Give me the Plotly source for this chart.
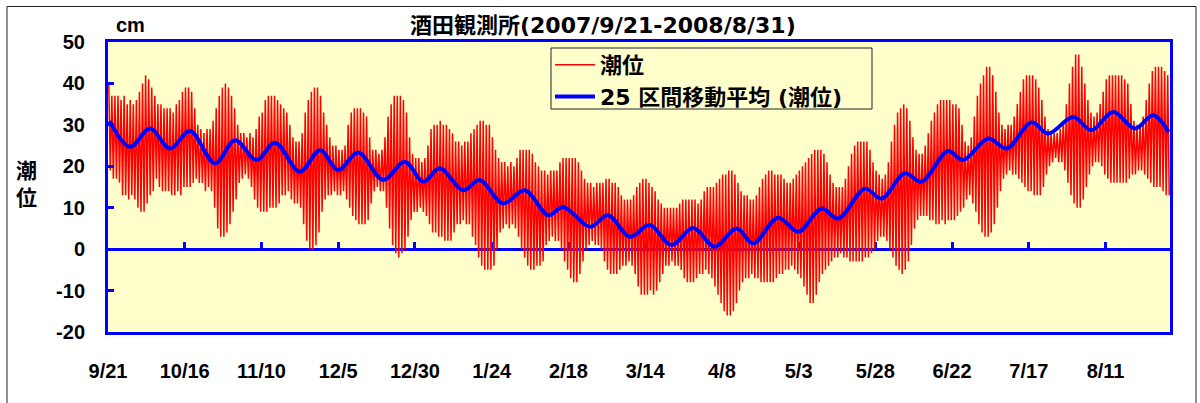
import plotly.graph_objects as go

# ---- data ----
tick_days = [0, 25, 50, 75, 100, 125, 150, 175, 200, 225, 250, 275, 300, 325]
tick_labels = ["9/21", "10/16", "11/10", "12/5", "12/30", "1/24", "2/18",
               "3/14", "4/8", "5/3", "5/28", "6/22", "7/17", "8/11"]
y_ticks = [-20, -10, 0, 10, 20, 30, 40, 50]
y_tick_labels = ["-20", "-10", "0", "10", "20", "30", "40", "50"]

# daily high / low of tide level (cm), day 0 = 2007/9/21
tide_high = [
    40, 37, 37, 37, 36, 37, 35, 36, 35, 36,
    38, 40, 42, 41, 39, 37, 35, 35, 34, 34,
    34, 33, 35, 36, 38, 39, 39, 38, 34, 30,
    29, 28, 29, 29, 31, 34, 37, 39, 40, 39,
    37, 34, 30, 28, 28, 27, 28, 27, 29, 32,
    33, 36, 37, 37, 37, 36, 35, 34, 33, 30,
    27, 26, 26, 28, 33, 36, 38, 39, 39, 37,
    33, 30, 27, 25, 25, 24, 24, 25, 30, 33,
    34, 34, 34, 33, 32, 27, 24, 24, 23, 24,
    27, 32, 35, 37, 37, 37, 36, 33, 27, 23,
    22, 22, 21, 22, 25, 29, 30, 30, 31, 30,
    30, 29, 28, 26, 26, 25, 26, 26, 28, 29,
    30, 31, 31, 30, 30, 27, 24, 22, 21, 21,
    20, 21, 20, 22, 24, 24, 24, 24, 23, 21,
    20, 19, 19, 18, 19, 19, 19, 21, 22, 22,
    22, 22, 22, 21, 19, 17, 16, 16, 15, 16,
    16, 16, 17, 17, 16, 16, 15, 13, 12, 12,
    12, 13, 15, 16, 17, 17, 16, 15, 14, 12,
    11, 10, 10, 10, 10, 10, 11, 12, 12, 12,
    12, 12, 11, 12, 14, 15, 15, 15, 16, 17,
    18, 18, 19, 19, 18, 16, 14, 13, 13, 12,
    12, 13, 15, 17, 18, 19, 19, 18, 18, 18,
    17, 16, 16, 17, 18, 19, 20, 21, 22, 23,
    24, 24, 24, 23, 21, 18, 16, 15, 15, 15,
    17, 20, 23, 25, 26, 26, 26, 26, 24, 21,
    19, 18, 17, 18, 21, 26, 30, 33, 34, 35,
    34, 31, 27, 24, 23, 23, 25, 28, 31, 33,
    35, 36, 36, 36, 36, 35, 35, 34, 30, 26,
    25, 27, 32, 37, 40, 42, 44, 44, 42, 38,
    33, 30, 29, 30, 30, 32, 35, 38, 41, 42,
    42, 42, 41, 39, 36, 32, 29, 28, 28, 28,
    29, 31, 35, 40, 44, 47, 47, 44, 40, 36,
    33, 32, 33, 35, 38, 41, 42, 42, 42, 42,
    42, 41, 40, 35, 31, 30, 30, 32, 36, 40,
    43, 44, 44, 44, 43, 42,
]
tide_low = [
    19, 17, 17, 16, 13, 13, 12, 13, 12, 10,
    9, 9, 11, 13, 14, 17, 15, 14, 14, 14,
    13, 13, 14, 13, 15, 15, 15, 16, 17, 16,
    16, 14, 15, 14, 10, 5, 3, 3, 4, 6,
    9, 12, 16, 17, 18, 17, 15, 12, 10, 9,
    9, 9, 10, 10, 10, 11, 13, 13, 14, 12,
    11, 11, 10, 6, 2, 0, 0, 1, 4, 9,
    12, 13, 13, 14, 13, 13, 14, 12, 10, 8,
    7, 6, 6, 6, 7, 11, 14, 15, 14, 14,
    10, 5, 1, -1, -2, -1, 0, 3, 7, 9,
    9, 10, 9, 8, 6, 4, 4, 3, 3, 2,
    2, 2, 4, 6, 6, 7, 6, 6, 3, 1,
    -2, -4, -5, -5, -5, -4, 0, 4, 5, 6,
    5, 6, 5, 3, 0, -2, -4, -5, -5, -4,
    -4, -3, 1, 2, 3, 2, 2, 0, -3, -5,
    -7, -8, -8, -6, -3, 0, 1, 2, 1, 1,
    0, -3, -5, -6, -6, -6, -5, -4, -4, -3,
    -4, -6, -9, -11, -11, -11, -10, -11, -10, -8,
    -6, -4, -4, -3, -4, -4, -5, -7, -8, -8,
    -8, -7, -6, -6, -5, -6, -7, -9, -11, -13,
    -15, -16, -16, -15, -13, -10, -8, -7, -7, -6,
    -7, -7, -8, -8, -8, -8, -8, -7, -6, -6,
    -5, -5, -4, -5, -6, -7, -9, -11, -13, -13,
    -11, -8, -6, -5, -4, -3, -2, -2, -1, -2,
    -2, -3, -3, -3, -3, -3, -2, -2, -1, 0,
    2, 3, 3, 2, 0, -2, -4, -5, -6, -5,
    -3, 1, 5, 7, 8, 8, 8, 7, 7, 6,
    6, 7, 6, 7, 7, 7, 8, 9, 10, 12,
    13, 11, 9, 6, 4, 3, 3, 4, 6, 10,
    14, 17, 18, 19, 18, 18, 17, 16, 15, 14,
    14, 13, 13, 13, 15, 18, 20, 21, 22, 21,
    21, 19, 16, 13, 11, 10, 10, 12, 15, 18,
    20, 21, 21, 20, 18, 17, 16, 16, 16, 16,
    16, 16, 17, 18, 18, 19, 19, 18, 17, 16,
    15, 15, 15, 14, 13, 13,
]

# 25-point moving average (turning points)
ma_day = [0.5, 7.2, 13.7, 20.2, 26.7, 34.9, 41.4, 48.4, 54.4, 62.5, 69.1, 75.0,
          81.5, 89.7, 96.7, 102.7, 108.1, 115.7, 121.1, 128.7, 135.8, 143.4,
          148.3, 157.0, 162.9, 170.0, 176.5, 183.6, 190.6, 197.7, 204.8, 210.2,
          218.3, 224.9, 232.5, 237.9, 246.6, 252.0, 259.6, 265.0, 273.7, 278.6,
          286.8, 292.8, 300.9, 306.3, 314.5, 320.4, 327.5, 334.6, 340.5, 345.5]
ma_val = [30.9, 24.7, 29.1, 24.3, 28.5, 20.7, 26.3, 21.5, 25.7, 18.7, 23.9, 19.1,
          23.3, 16.7, 21.1, 16.3, 19.5, 14.2, 16.7, 11.0, 14.2, 8.2,
          10.2, 5.4, 8.2, 3.0, 5.8, 1.0, 5.1, 0.6, 5.0, 1.4,
          7.6, 4.2, 9.8, 7.4, 14.6, 12.2, 18.3, 16.3, 23.7, 21.5,
          26.7, 24.3, 30.6, 27.9, 31.9, 28.7, 33.1, 29.1, 32.3, 28.3]

# ---- build the tide trace (high then low within each day) ----
tx, ty = [], []
for d, (h, l) in enumerate(zip(tide_high, tide_low)):
    tx += [d + 0.25, d + 0.75]
    ty += [h, l]

BLUE = "#0000FF"
FONT = "Arial, Liberation Sans, Noto Sans CJK JP, sans-serif"
CJK = "DejaVu Sans, Noto Sans CJK JP, sans-serif"

fig = go.Figure()
fig.add_trace(go.Scatter(x=tx, y=ty, mode="lines", name="潮位",
                         line=dict(color="#FF0000", width=1.5)))
fig.add_trace(go.Scatter(x=ma_day, y=ma_val, mode="lines",
                         name="25 区間移動平均 (潮位)",
                         line=dict(color=BLUE, width=4, shape="spline")))
# carrier for the zero-level axis with its tick marks
fig.add_trace(go.Scatter(x=[None], y=[None], xaxis="x2", mode="lines",
                         showlegend=False, hoverinfo="skip"))

L, R, T, B = 108, 30, 42, 71
W, H = 1200, 403
pw, ph = W - L - R, H - T - B

def px(x):
    return (x - L) / pw

def py(y):
    return (H - B - y) / ph

fig.update_layout(
    width=W, height=H,
    margin=dict(l=L, r=R, t=T, b=B),
    paper_bgcolor="white",
    plot_bgcolor="#FFFFCC",
    font=dict(family=FONT, size=20, color="black"),
    showlegend=True,
    legend=dict(x=px(550), y=py(44), xanchor="left", yanchor="top",
                bgcolor="rgba(0,0,0,0)", borderwidth=0,
                font=dict(family=CJK, size=22, color="black", weight="bold"),
                tracegroupgap=0, itemwidth=40),
    xaxis=dict(range=[0, 346], tickvals=tick_days, ticktext=tick_labels,
               ticks="", showgrid=False, zeroline=False,
               showline=True, linecolor=BLUE, linewidth=3, mirror=True,
               tickfont=dict(family=FONT, size=20, color="black", weight="bold"),
               ticklabelstandoff=19),
    xaxis2=dict(overlaying="x", matches="x", anchor="free", position=20 / 70,
                side="bottom", showline=True, linecolor=BLUE, linewidth=3,
                ticks="inside", ticklen=6, tickwidth=3, tickcolor=BLUE,
                tickvals=tick_days[1:], showticklabels=False,
                showgrid=False, zeroline=False, layer="below traces"),
    yaxis=dict(range=[-20, 50], tickvals=y_ticks, ticktext=y_tick_labels,
               ticks="inside", ticklen=6,
               tickwidth=3, tickcolor=BLUE, showgrid=False, zeroline=False,
               showline=True, linecolor=BLUE, linewidth=3, mirror=True,
               tickfont=dict(family=FONT, size=20, color="black", weight="bold"),
               ticklabelstandoff=16),
)

fig.add_annotation(text="酒田観測所(2007/9/21-2008/8/31)", xref="paper", yref="paper",
                   x=px(603), y=py(25), xanchor="center", yanchor="middle",
                   showarrow=False,
                   font=dict(family=CJK, size=22, color="black", weight="bold"))
fig.add_annotation(text="cm", xref="paper", yref="paper",
                   x=px(130), y=py(25), xanchor="center", yanchor="middle",
                   showarrow=False,
                   font=dict(family=FONT, size=20, color="black", weight="bold"))
fig.add_annotation(text="潮<br>位", xref="paper", yref="paper",
                   x=px(26), y=py(184), xanchor="center", yanchor="middle",
                   showarrow=False,
                   font=dict(family=CJK, size=21, color="black", weight="bold"))

# legend frame
fig.add_shape(type="rect", xref="paper", yref="paper",
              x0=px(551), x1=px(872), y0=py(109), y1=py(48),
              line=dict(color="#222222", width=1), fillcolor="rgba(0,0,0,0)",
              layer="above")
# outer chart border
fig.add_shape(type="rect", xref="paper", yref="paper",
              x0=px(7), x1=px(1196), y0=py(410), y1=py(6.5),
              line=dict(color="#222222", width=1), fillcolor="rgba(0,0,0,0)",
              layer="below")

fig.write_html("out.html", config={"displayModeBar": False})

# remove the browser's default page margin so the figure sits at (0, 0)
with open("out.html", encoding="utf-8") as f:
    html = f.read()
html = html.replace("<head>", "<head><style>html,body{margin:0;padding:0;}</style>", 1)
with open("out.html", "w", encoding="utf-8") as f:
    f.write(html)
